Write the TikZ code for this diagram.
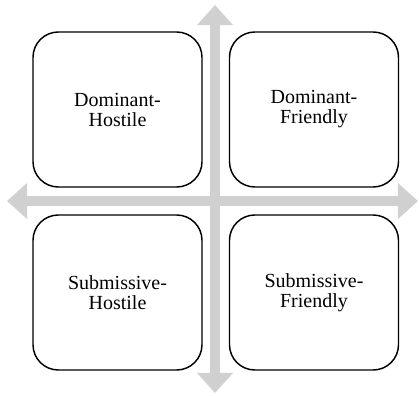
\documentclass[tikz,border=0pt]{standalone}
\usepackage{fontspec}
\setmainfont{Liberation Serif}
\usetikzlibrary{arrows.meta}
\definecolor{axisgray}{RGB}{208,208,208}
\tikzset{
 quad/.style={draw=black,line width=1.1pt,fill=white,rounded corners=19pt,
  minimum width=126.75pt,minimum height=116.25pt,align=center,
  font=\fontsize{15}{15}\selectfont},
 axis/.style={draw=axisgray,line width=8pt,
  {Triangle[length=15pt,width=26pt]}-{Triangle[length=15pt,width=26pt]}}
}
\begin{document}
\begin{tikzpicture}[x=0.75pt,y=-0.75pt]
 \useasboundingbox (0,0) rectangle (419,396);
 % the two axes
 \coordinate (top) at (215,5);
 \coordinate (bottom) at (215,393);
 \coordinate (left) at (7,201);
 \coordinate (right) at (418,201);
 \draw[axis] (bottom) -- (top);
 \draw[axis] (left) -- (right);
 % the four quadrants
 \node[quad] (dh) at (117.5,109.5) {Dominant-\\Hostile};
 \node[quad] (df) at (314,109.5) {Dominant-\\Friendly};
 \node[quad] (sh) at (117.5,292.5) {Submissive-\\Hostile};
 \node[quad] (sf) at (314,292.5) {Submissive-\\Friendly};
\end{tikzpicture}
\end{document}
